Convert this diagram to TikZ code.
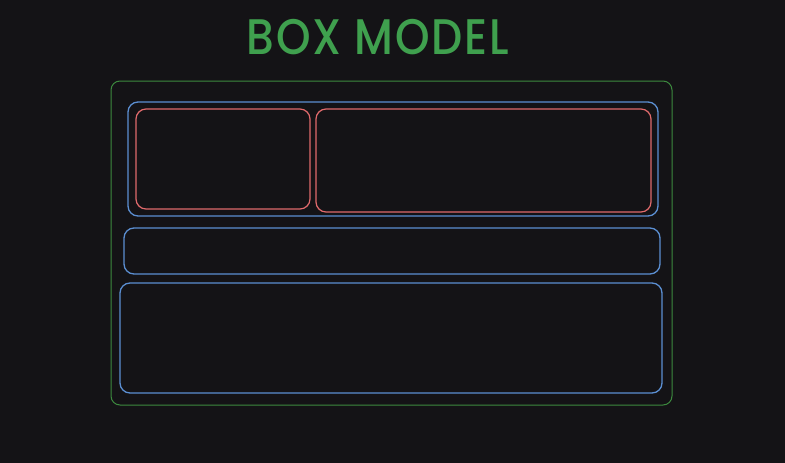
\documentclass[tikz,border=0pt]{standalone}
\usepackage{fontspec}
\newfontfamily\titlefont[LetterSpace=4]{Poppins Medium}
\usetikzlibrary{positioning,fit}
\definecolor{cbg}{HTML}{141316}
\definecolor{ctitle}{HTML}{3FA04E}
\definecolor{cgreen}{HTML}{3C8A3E}
\definecolor{cblue}{HTML}{5B8FD2}
\definecolor{cred}{HTML}{E06A6C}
\tikzset{
  bxouter/.style={rectangle, rounded corners=9pt, draw=cgreen, line width=1pt},
  bxrow/.style={rectangle, rounded corners=10pt, draw=cblue, line width=1.3pt},
  bxcell/.style={rectangle, rounded corners=10pt, draw=cred, line width=1.2pt},
  ttl/.style={font=\titlefont\fontsize{50}{54}\selectfont, text=ctitle, xscale=0.88, inner sep=0pt}
}
\begin{document}
\begin{tikzpicture}[x=1pt, y=-1pt]

\fill[cbg] (0,0) rectangle (785,463);
\useasboundingbox (0,0) rectangle (785,463);

\node[ttl] (title) at (378,37) {BOX MODEL};

% corners of the boxes
\coordinate (oA) at (111,81);  \coordinate (oB) at (672,405);
\coordinate (r1A) at (128,102); \coordinate (r1B) at (658,216);
\coordinate (c1A) at (136,109); \coordinate (c1B) at (310,209);
\coordinate (c2A) at (316,109); \coordinate (c2B) at (651,212);
\coordinate (r2A) at (124,228); \coordinate (r2B) at (660,274);
\coordinate (r3A) at (120,283); \coordinate (r3B) at (662,393);

\node[bxouter, fit=(oA)(oB), inner sep=0pt] (outer) {};
\node[bxrow, fit=(r1A)(r1B), inner sep=0pt] (row1) {};
\node[bxcell, fit=(c1A)(c1B), inner sep=0pt] (cellL) {};
\node[bxcell, fit=(c2A)(c2B), inner sep=0pt] (cellR) {};
\node[bxrow, fit=(r2A)(r2B), inner sep=0pt] (row2) {};
\node[bxrow, fit=(r3A)(r3B), inner sep=0pt] (row3) {};

\end{tikzpicture}
\end{document}
